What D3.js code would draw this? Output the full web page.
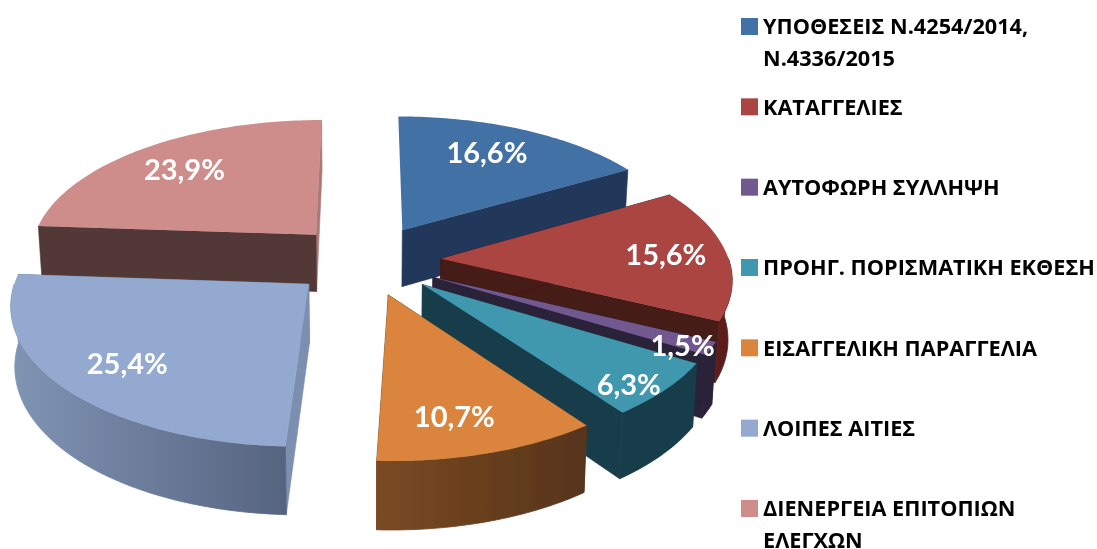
<!DOCTYPE html>
<html><head><meta charset="utf-8">
<script src="https://cdn.jsdelivr.net/npm/d3@7"></script>
<style>html,body{margin:0;padding:0;background:#fff;overflow:hidden}svg{display:block}</style>
</head><body><svg id="c" width="1097" height="549"></svg>
<script>
const categories = ["ΥΠΟΘΕΣΕΙΣ Ν.4254/2014,|Ν.4336/2015","ΚΑΤΑΓΓΕΛΙΕΣ","ΑΥΤΟΦΩΡΗ ΣΥΛΛΗΨΗ","ΠΡΟΗΓ. ΠΟΡΙΣΜΑΤΙΚΗ ΕΚΘΕΣΗ","ΕΙΣΑΓΓΕΛΙΚΗ ΠΑΡΑΓΓΕΛΙΑ","ΛΟΙΠΕΣ ΑΙΤΙΕΣ","ΔΙΕΝΕΡΓΕΙΑ ΕΠΙΤΟΠΙΩΝ|ΕΛΕΓΧΩΝ"];
const values = [16.6,15.6,1.5,6.3,10.7,25.4,23.9];
const valueLabels = ["16,6%","15,6%","1,5%","6,3%","10,7%","25,4%","23,9%"];
const topColors = ["#4371a6","#aa4443","#71588f","#4198af","#db843d","#93a9cf","#ce8d8b"];
const sideColors = ["#22395a","#451a18","#2c2039","#193d49","#6a4019","#7b8fb0","#523838"];
const rimFrom = ["#22395a","#5c1e1b","#2c2039","#193d49","#7a4a22","#8094b4","#523838"];
const rimTo = ["#22395a","#5c1e1b","#2c2039","#193d49","#56341a","#566480","#523838"];
const labelNudge = [[-6,-3],[19,0],[53,18],[36,27],[-4,13],[-9,7],[-5,-1]];

const svg = d3.select("#c");
const defs = svg.append("defs");
defs.append("filter").attr("id","soft").append("feGaussianBlur").attr("stdDeviation",0.45);
const chart = svg.append("g").attr("filter","url(#soft)");

const R=288, E=75, DEPTH=58, cx=366, HOR=-805, A=1065, D=2266;
const project=(X,Y,Z)=>{const s=D/(D-Y);return [cx+X*s*(1-Z*0.0002),HOR+A*s+Z*s];};
const arcs=d3.pie().sort(null).startAngle(0).endAngle(2*Math.PI)(values);
const line=d3.line();
const color=d3.scaleOrdinal().domain(d3.range(values.length)).range(topColors);
const deg=Math.PI/180;

arcs.forEach(a=>{a.mid=(a.startAngle+a.endAngle)/2;a.ox=E*Math.sin(a.mid);a.oy=-E*Math.cos(a.mid);});
const rimPt=(a,t,Z,r=R)=>project(a.ox+r*Math.sin(t),a.oy-r*Math.cos(t),Z);
const apex=(a,Z)=>project(a.ox,a.oy,Z);
const samples=(t0,t1)=>{const n=Math.max(2,Math.ceil((t1-t0)/deg));return d3.range(n+1).map(i=>t0+(t1-t0)*i/n);};

const order=[6,0,1,2,3,5,4];
order.forEach(i=>{
  const a=arcs[i], g=chart.append("g");
  const wall=(t,c)=>g.append("path").attr("d",line([apex(a,0),rimPt(a,t,0),rimPt(a,t,DEPTH),apex(a,DEPTH)])+"Z").attr("fill",c).attr("stroke",c).attr("stroke-width",0.6);
  wall(a.endAngle, i===6?"#a97a78":i===5?"#6c7c99":sideColors[i]);
  if(i!==0) wall(a.startAngle, sideColors[i]);
  const t0=Math.max(a.startAngle,90*deg), t1=Math.min(a.endAngle,270*deg);
  if(t1>t0){
    const id="rim"+i, gr=defs.append("linearGradient").attr("id",id);
    gr.append("stop").attr("offset",0).attr("stop-color",rimFrom[i]);
    gr.append("stop").attr("offset",1).attr("stop-color",rimTo[i]);
    const ss=samples(t0,t1);
    const pts=ss.map(t=>rimPt(a,t,0)).concat(ss.slice().reverse().map(t=>rimPt(a,t,DEPTH)));
    if(i===5) gr.attr("x1",1).attr("x2",0).selectAll("stop").attr("stop-color",(d,k)=>k===0?rimTo[i]:rimFrom[i]);
    g.append("path").attr("d",line(pts)+"Z").attr("fill",`url(#${id})`).attr("stroke",`url(#${id})`).attr("stroke-width",0.8);
  }
  const top=[apex(a,0)].concat(samples(a.startAngle,a.endAngle).map(t=>rimPt(a,t,0)));
  g.append("path").attr("d",line(top)+"Z").attr("fill",color(i));
});

const labelFrac=0.72;
arcs.forEach((a,i)=>{
  const p=rimPt(a,a.mid,0,R*labelFrac);
  chart.append("text").attr("x",p[0]+labelNudge[i][0]).attr("y",p[1]+labelNudge[i][1]).attr("dy","0.35em")
    .attr("text-anchor","middle").attr("fill","#fff").attr("font-family","Lato, 'Open Sans', sans-serif")
    .attr("font-weight",700).attr("font-size",29).text(valueLabels[i]);
});

const legendY=d3.scaleLinear().domain([0,categories.length-1]).range([26.5,508.5]);
categories.forEach((c,i)=>{
  const y=legendY(i);
  chart.append("rect").attr("x",741).attr("y",y-8.5).attr("width",17).attr("height",17).attr("fill",color(i));
  c.split("|").forEach((t,k)=>{
    chart.append("text").attr("x",763).attr("y",y+k*31.5).attr("dy","0.36em")
      .attr("font-family","'Open Sans', sans-serif").attr("font-weight",700).attr("font-size",21.7)
      .attr("fill","#000").text(t);
  });
});
</script></body></html>
